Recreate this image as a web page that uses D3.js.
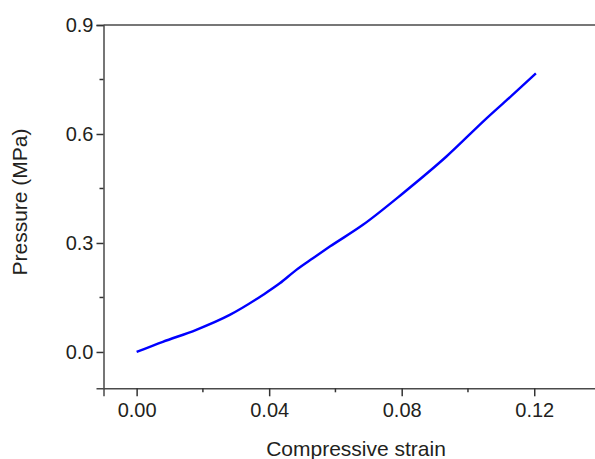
<!DOCTYPE html>
<html>
<head>
<meta charset="utf-8">
<script src="https://cdn.jsdelivr.net/npm/d3@7"></script>
<style>
  body { margin: 0; background: #fff; }
  text { font-family: "Liberation Sans", Arial, sans-serif; fill: #231f20; }
</style>
</head>
<body>
<div id="chart"></div>
<script>
var strain = [0, 0.0079, 0.018, 0.0281, 0.0381, 0.0432, 0.0482, 0.0532, 0.0583, 0.0683, 0.0804, 0.0935, 0.1056, 0.1146, 0.1205];
var pressure = [0, 0.028, 0.061, 0.102, 0.157, 0.189, 0.226, 0.258, 0.290, 0.350, 0.437, 0.538, 0.643, 0.717, 0.767];
var xTicks = [0, 0.04, 0.08, 0.12];
var xMinor = [0.02, 0.06, 0.10];
var yTicks = [0, 0.3, 0.6, 0.9];
var yMinor = [0.15, 0.45, 0.75];

var width = 595, height = 459;
var svg = d3.select("#chart").append("svg")
    .attr("width", width)
    .attr("height", height);

var x = d3.scaleLinear().domain([-0.01, 0.14]).range([103.5, 600.5]);
var y = d3.scaleLinear().domain([-0.1, 0.9]).range([388.3, 25]);

var axisColor = "#4a4a4a";
var tickColor = "#333";

// top frame line
svg.append("line")
    .attr("x1", x(-0.01)).attr("x2", width)
    .attr("y1", y(0.9)).attr("y2", y(0.9))
    .attr("stroke", axisColor).attr("stroke-width", 1.5);

var xAxis = svg.append("g")
    .attr("transform", "translate(0," + y(-0.1) + ")")
    .call(d3.axisBottom(x).tickValues(xTicks).tickSize(8).tickPadding(7)
        .tickFormat(d3.format(".2f")));
xAxis.selectAll(".minor")
    .data(xMinor).enter().append("line")
    .attr("class", "minor")
    .attr("x1", x).attr("x2", x).attr("y1", 0).attr("y2", 4)
    .attr("stroke", tickColor).attr("stroke-width", 1.5);

var yAxis = svg.append("g")
    .attr("transform", "translate(" + x(-0.01) + ",0)")
    .call(d3.axisLeft(y).tickValues(yTicks).tickSize(7).tickPadding(3)
        .tickFormat(d3.format(".1f")));
yAxis.selectAll(".minor")
    .data(yMinor).enter().append("line")
    .attr("class", "minor")
    .attr("y1", y).attr("y2", y).attr("x1", 0).attr("x2", -4)
    .attr("stroke", tickColor).attr("stroke-width", 1.5);

svg.selectAll(".domain").attr("stroke", axisColor).attr("stroke-width", 1.5);
svg.selectAll(".tick line").attr("stroke", tickColor).attr("stroke-width", 1.5);
svg.selectAll(".tick text")
    .attr("font-size", 20)
    .attr("font-family", "Liberation Sans, Arial, sans-serif")
    .attr("fill", "#231f20");

var pts = strain.map(function(d, i) { return [d, pressure[i]]; });
svg.append("path")
    .datum(pts)
    .attr("fill", "none")
    .attr("stroke", "#0000ff")
    .attr("stroke-width", 2.4)
    .attr("d", d3.line()
        .x(function(d) { return x(d[0]); })
        .y(function(d) { return y(d[1]); })
        .curve(d3.curveMonotoneX));

svg.append("text")
    .attr("x", 356)
    .attr("y", 456)
    .attr("text-anchor", "middle")
    .attr("font-size", 21)
    .text("Compressive strain");

svg.append("text")
    .attr("transform", "translate(27,202) rotate(-90)")
    .attr("text-anchor", "middle")
    .attr("font-size", 21)
    .text("Pressure (MPa)");
</script>
</body>
</html>
